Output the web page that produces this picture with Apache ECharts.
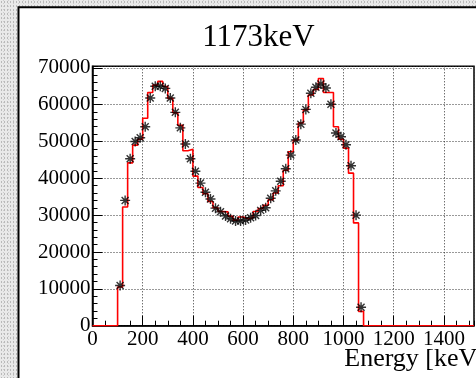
<!DOCTYPE html>
<html>
<head>
<meta charset="utf-8">
<style>
  html, body { margin: 0; padding: 0; }
  body {
    width: 476px; height: 378px; overflow: hidden;
    background-color: #e9e9e9;
    background-image:
      radial-gradient(circle, #b9b9b9 0.6px, transparent 0.9px),
      radial-gradient(circle, #cdcdcd 0.6px, transparent 0.9px);
    background-size: 3px 4px, 5px 3px;
    background-position: 0 0, 1px 2px;
  }
  #chart { width: 476px; height: 378px; }
</style>
<script src="https://cdn.jsdelivr.net/npm/echarts@6/dist/echarts.min.js"></script>
</head>
<body>
<div id="chart"></div>
<script>
// Measured spectrum (black asterisks): bin centres in keV and counts
const starEnergy = [110, 130, 150, 170, 190, 210, 230, 250, 270, 290,
                    310, 330, 350, 370, 390, 410, 430, 450, 470, 490,
                    510, 530, 550, 570, 590, 610, 630, 650, 670, 690,
                    710, 730, 750, 770, 790, 810, 830, 850, 870, 890,
                    910, 930, 950, 970, 990, 1010, 1030, 1050, 1070];
const starCounts = [10900, 34000, 45300, 50000, 51000, 54000, 61800, 65000, 65000, 64400,
                    61800, 57900, 53700, 49300, 45300, 41900, 38700, 36200, 34400, 31900,
                    30900, 29800, 29000, 28400, 28400, 28700, 29300, 29900, 31300, 32000,
                    34600, 36600, 39200, 42600, 46300, 50400, 54700, 58700, 63100, 64700,
                    65600, 64500, 60100, 52300, 51300, 49100, 43400, 30000, 5000];

// Simulated histogram (red steps): lower bin edges in keV and bin contents
const histLowEdge = [100, 120, 140, 160, 180, 200, 220, 240, 260, 280,
                     300, 320, 340, 360, 380, 400, 420, 440, 460, 480,
                     500, 520, 540, 560, 580, 600, 620, 640, 660, 680,
                     700, 720, 740, 760, 780, 800, 820, 840, 860, 880,
                     900, 920, 940, 960, 980, 1000, 1020, 1040, 1060];
const histCounts = [10500, 32200, 44200, 49000, 50600, 56300, 63300, 65300, 66300, 64900,
                    61700, 57800, 54400, 47500, 47900, 40600, 37500, 35800, 33700, 32000,
                    31000, 30900, 29700, 28600, 29500, 29000, 29300, 31000, 31800, 32700,
                    34200, 36000, 38000, 42200, 47200, 50400, 55000, 58600, 62600, 64100,
                    67100, 63300, 63300, 54000, 50600, 48200, 41400, 27900, 3900];
const histUpperEdge = 1080;

// Axis ranges and labels
const xRange = [0, 1520];
const yRange = [0, 70400];
const xMajor = 200, xMinor = 50;
const yMajor = 10000, yMinor = 2000;
const titleText = '1173keV';
const xTitle = 'Energy [keV]';

const FONT = '"Liberation Serif", "Times New Roman", serif';

// Step outline: flat at zero up to the first edge, one point per bin, back to zero
const histPoints = [[xRange[0], 0]];
histLowEdge.forEach((e, i) => histPoints.push([e, histCounts[i]]));
histPoints.push([histUpperEdge, 0]);
histPoints.push([xRange[1], 0]);

const starPoints = starEnergy.map((e, i) => [e, starCounts[i]]);

const asterisk = 'path://M0,5L10,5M5,0L5,10M1.5,1.5L8.5,8.5M8.5,1.5L1.5,8.5';

const chart = echarts.init(document.getElementById('chart'), null, { renderer: 'canvas' });

const grid = { left: 92.5, right: 2, top: 66.3, bottom: 52.3,
               show: true, borderColor: '#000', borderWidth: 1.5, backgroundColor: 'transparent' };

chart.setOption({
  backgroundColor: 'transparent',
  animation: false,
  graphic: [
    { type: 'rect', z: -10, silent: true,
      shape: { x: 18.5, y: 7.3, width: 600, height: 500 },
      style: { fill: '#fff', stroke: '#000', lineWidth: 2 } },
    { type: 'text', z: 10, silent: true,
      style: { x: 258.5, y: 38, text: titleText, font: '31px ' + FONT,
               fill: '#000', textAlign: 'center', textVerticalAlign: 'middle' } },
    { type: 'text', z: 10, silent: true,
      style: { x: 486, y: 359.5, text: xTitle, font: '26px ' + FONT,
               fill: '#000', textAlign: 'right', textVerticalAlign: 'middle' } }
  ],
  grid: grid,
  xAxis: [
    { type: 'value', min: xRange[0], max: xRange[1], interval: xMajor,
      axisLine: { show: true, lineStyle: { color: '#000', width: 1.5 } },
      axisTick: { show: true, inside: true, length: 10, lineStyle: { color: '#000', width: 1 } },
      axisLabel: { show: true, margin: 3, color: '#000', fontFamily: FONT, fontSize: 21,
                   hideOverlap: false, showMaxLabel: false,
                   formatter: v => (v % xMajor === 0 ? String(v) : '') },
      splitLine: { show: true, lineStyle: { color: '#333', width: 1, type: [1, 2] } } },
    { type: 'value', min: xRange[0], max: xRange[1], interval: xMinor, position: 'bottom',
      axisLine: { show: false },
      axisTick: { show: true, inside: true, length: 5, lineStyle: { color: '#000', width: 1 } },
      axisLabel: { show: false },
      splitLine: { show: false } }
  ],
  yAxis: [
    { type: 'value', min: yRange[0], max: yRange[1], interval: yMajor,
      axisLine: { show: true, lineStyle: { color: '#000', width: 1.5 } },
      axisTick: { show: true, inside: true, length: 10, lineStyle: { color: '#000', width: 1 } },
      axisLabel: { show: true, margin: 2, color: '#000', fontFamily: FONT, fontSize: 21,
                   showMaxLabel: false,
                   formatter: v => (v % yMajor === 0 ? String(v) : '') },
      splitLine: { show: true, lineStyle: { color: '#333', width: 1, type: [1, 2] } } },
    { type: 'value', min: yRange[0], max: yRange[1], interval: yMinor, position: 'left',
      axisLine: { show: false },
      axisTick: { show: true, inside: true, length: 5, lineStyle: { color: '#000', width: 1 } },
      axisLabel: { show: false },
      splitLine: { show: false } }
  ],
  series: [
    { type: 'line', name: 'simulation', xAxisIndex: 0, yAxisIndex: 0,
      data: histPoints, step: 'end', showSymbol: false, symbol: 'none',
      lineStyle: { color: '#ff0000', width: 1.6 }, z: 3 },
    { type: 'scatter', name: 'measurement', xAxisIndex: 0, yAxisIndex: 0,
      data: starPoints, symbol: asterisk, symbolSize: 10,
      itemStyle: { color: '#000', borderColor: '#000', borderWidth: 1.4 }, z: 4 }
  ]
});
</script>
</body>
</html>
